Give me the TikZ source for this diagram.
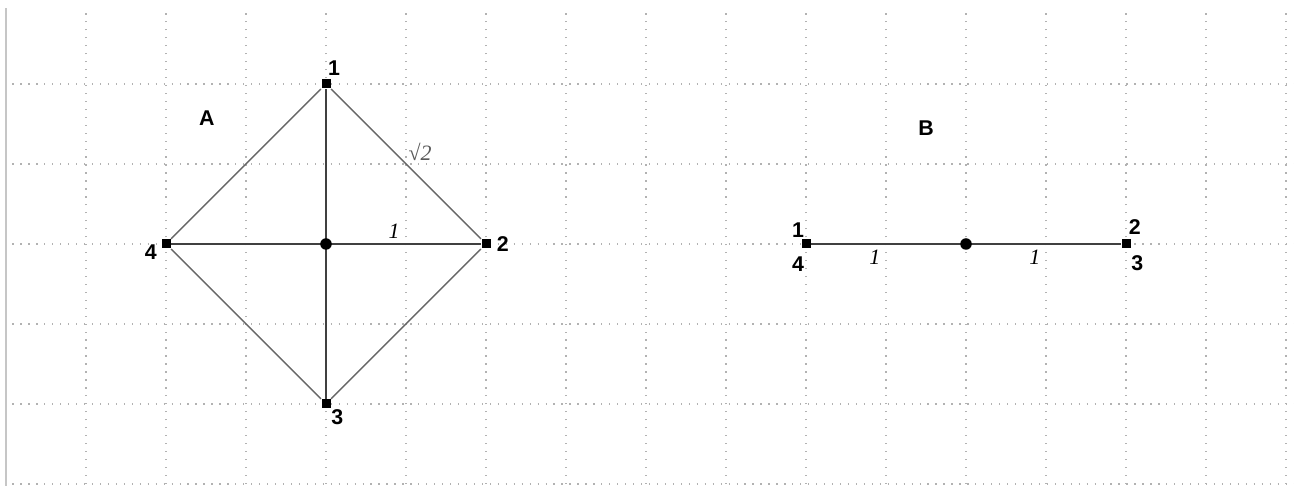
\documentclass[tikz,border=0pt]{standalone}
\usepackage{fontspec}
\setmainfont{Liberation Serif}
\setsansfont{Liberation Sans}

\begin{document}
\begin{tikzpicture}
[vertexdecorate/.style={shape=rectangle,fill=black,inner sep=0pt,minimum size=3.2pt},%
  centredecorate/.style={shape=circle,fill=black,inner sep=0pt,minimum size=4.1pt},%
  linedecorate/.style={-,draw=black!60,line width=0.5pt},%
  axisdecorate/.style={-,draw=black!75,line width=0.75pt},%
  namedecorate/.style={font=\sffamily\bfseries\fontsize{7.6}{8}\selectfont,inner sep=0pt},%
  weightdecorate/.style={font=\itshape\fontsize{7.8}{9}\selectfont,inner sep=0pt},%
  griddecorate/.style={draw=gray!60,line width=0.45pt,dash pattern=on 0.45pt off 2.38pt}]
\useasboundingbox (-0.075,-0.025) rectangle (16.1,6.05);
%% dotted grid
\foreach \x in {1,...,16}
  \draw[griddecorate] (\x,0) -- (\x,5.93);
\foreach \y in {0,...,5}
  \draw[griddecorate] (0.08,\y) -- (16.1,\y);
\draw[gray!45,line width=0.6pt] (0,-0.03) -- (0,5.95);
%% figure A
\foreach \nodename/\x/\y in {
  a1/4/5, a2/6/3, a3/4/1, a4/2/3}
{
  \node (\nodename) at (\x,\y) [vertexdecorate] {};
}
\path
\foreach \startnode/\endnode in {a1/a2, a2/a3, a3/a4, a4/a1}
{
  (\startnode) edge[linedecorate] (\endnode)
};
\path
\foreach \startnode/\endnode in {a4/a2, a1/a3}
{
  (\startnode) edge[axisdecorate] (\endnode)
};
\node (ac) at (4,3) [centredecorate] {};
%% figure B
\foreach \nodename/\x/\y in {b14/10/3, b23/14/3}
{
  \node (\nodename) at (\x,\y) [vertexdecorate] {};
}
\path (b14) edge[axisdecorate] (b23);
\node (bc) at (12,3) [centredecorate] {};
%% vertex names
\foreach \nodename/\x/\y/\txt in {
  namea/2.51/4.575/A, namea1/4.1/5.2/1, namea2/6.21/3.0/2,
  namea3/4.14/0.84/3, namea4/1.81/2.9/4,
  nameb/11.5/4.45/B, nameb1/9.9/3.175/1, nameb4/9.9/2.75/4,
  nameb2/14.11/3.21/2, nameb3/14.14/2.76/3}
{
  \node (\nodename) at (\x,\y) [namedecorate] {\txt};
}
%% edge weights
\node (wroot) at (5.175,4.15) [weightdecorate,text=black!65] {√2};
\foreach \nodename/\x/\y in {wa/4.85/3.16, wb1/10.86/2.83, wb2/12.86/2.83}
{
  \node (\nodename) at (\x,\y) [weightdecorate] {1};
}
\end{tikzpicture}
\end{document}
